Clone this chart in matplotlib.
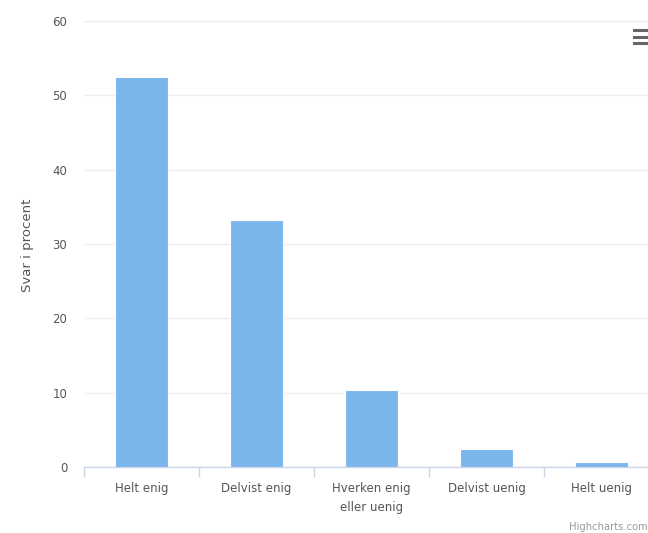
import matplotlib.pyplot as plt
from matplotlib.lines import Line2D

categories = ["Helt enig", "Delvist enig", "Hverken enig\neller uenig", "Delvist uenig", "Helt uenig"]
values = [52.4, 33.2, 10.3, 2.4, 0.7]
y_ticks = [0, 10, 20, 30, 40, 50, 60]

W, H = 648, 533
fig = plt.figure(figsize=(W / 100, H / 100), dpi=100)

# plot area: x 84..659 px (runs past the right edge), y 21..467 px
ax = fig.add_axes([84 / W, (H - 467) / H, 575 / W, 446 / H])

x = list(range(len(categories)))
ax.bar(x, values, width=0.46, color="#7cb5ec", edgecolor="white", linewidth=0.8, zorder=3)

ax.set_xlim(-0.5, len(categories) - 0.5)
ax.set_ylim(0, 60)
ax.set_yticks(y_ticks)
ax.grid(axis="y", color="#eeeeee", linewidth=1, zorder=0)

for side in ["top", "right", "left"]:
    ax.spines[side].set_visible(False)
ax.spines["bottom"].set_color("#ccd6eb")
ax.spines["bottom"].set_linewidth(1)

ax.set_xticks(x)
ax.set_xticklabels(categories, fontsize=8.5, color="#555555", linespacing=1.55)
ax.set_xticks([i - 0.5 for i in range(len(categories) + 1)], minor=True)
ax.tick_params(axis="x", which="major", length=0, pad=11)
ax.tick_params(axis="x", which="minor", length=7.5, color="#ccd6eb", width=1)
ax.tick_params(axis="y", length=0, pad=12, labelsize=8.5, labelcolor="#555555")

fig.text(28 / W, 1 - 245 / H, "Svar i procent", rotation=90, ha="center", va="center",
         fontsize=9.5, color="#555555")

# export menu icon
for yy in (30, 36.5, 43):
    fig.add_artist(Line2D([634 / W, 1.0], [1 - yy / H, 1 - yy / H], color="#666666", linewidth=2.2))

fig.text(569 / W, 1 - 527 / H, "Highcharts.com", fontsize=7.2, color="#999999", ha="left", va="center")

fig.savefig("out.png", dpi=100)
